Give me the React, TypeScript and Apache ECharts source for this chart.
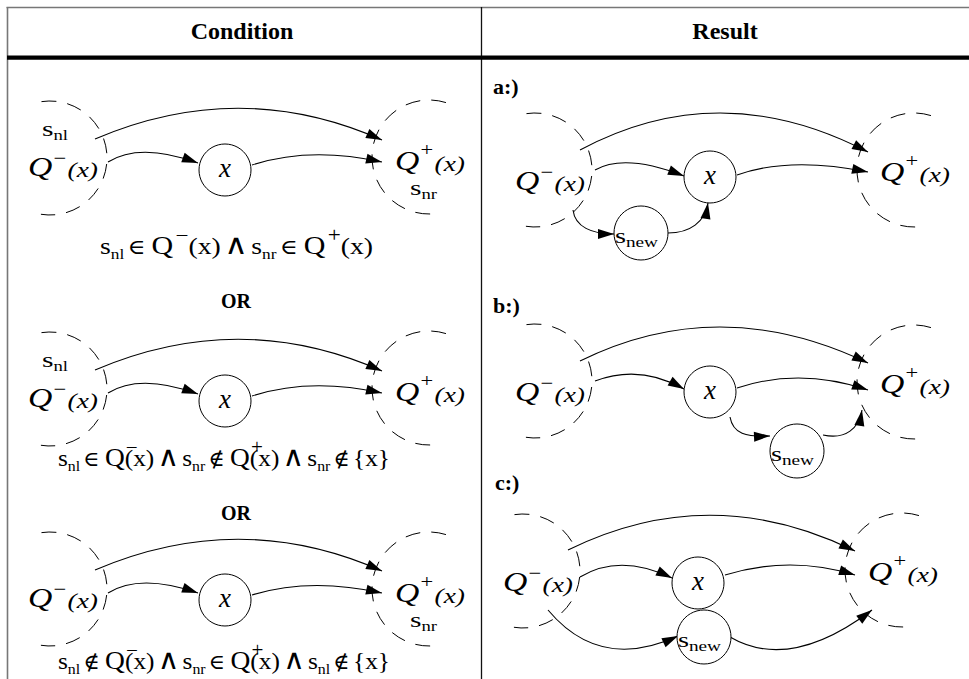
import React, { useEffect, useRef } from "react";
import * as echarts from "echarts";

// ---------- content ----------
const headers = ["Condition", "Result"];
const orLabels = ["OR", "OR"];
const resultTags = ["a:)", "b:)", "c:)"];
const nodeLabel = "x";
const newNode = ["s", "new"];
const leftNeighbor = ["s", "nl"];
const rightNeighbor = ["s", "nr"];
const predSet = ["Q", "−", "(x)"];
const succSet = ["Q", "+", "(x)"];

// formula tokens: [text, role]
const condition1: [string, string][] = [
  ["s", "v"], ["nl", "sub"], ["∈", "rel"], ["Q", "Q"], ["−", "sup"], ["(x)", "grp"],
  ["∧", "and"], ["s", "v"], ["nr", "sub"], ["∈", "rel"], ["Q", "Q"], ["+", "sup"], ["(x)", "grp"],
];
const condition2: [string, string][] = [
  ["s", "v"], ["nl", "sub"], ["∈", "rel"], ["Q", "Q"], ["−", "ovl"], ["(x)", "grp"],
  ["∧", "and"], ["s", "v"], ["nr", "sub"], ["∉", "rel"], ["Q", "Q"], ["+", "ovl"], ["(x)", "grp"],
  ["∧", "and"], ["s", "v"], ["nr", "sub"], ["∉", "rel"], ["{x}", "grp"],
];
const condition3: [string, string][] = [
  ["s", "v"], ["nl", "sub"], ["∉", "rel"], ["Q", "Q"], ["−", "ovl"], ["(x)", "grp"],
  ["∧", "and"], ["s", "v"], ["nr", "sub"], ["∈", "rel"], ["Q", "Q"], ["+", "ovl"], ["(x)", "grp"],
  ["∧", "and"], ["s", "v"], ["nl", "sub"], ["∉", "rel"], ["{x}", "grp"],
];
const conditions = [condition1, condition2, condition3];

// ---------- helpers ----------
const FAM = "Liberation Serif, Times New Roman, DejaVu Serif, serif";
type Piece = {
  t: string; size: number; dy?: number; dx?: number; italic?: boolean; bold?: boolean;
  padL?: number; padR?: number; noAdvance?: boolean;
};
let mctx: CanvasRenderingContext2D | null = null;
function fontOf(p: Piece) {
  return `${p.italic ? "italic " : ""}${p.bold ? "bold " : ""}${p.size}px ${FAM}`;
}
function measure(t: string, font: string) {
  if (!mctx) mctx = document.createElement("canvas").getContext("2d");
  mctx!.font = font;
  return mctx!.measureText(t).width;
}
function run(pieces: Piece[], left: number, baseline: number, targetW?: number, center?: number) {
  let x = 0;
  const items: any[] = [];
  for (const p of pieces) {
    x += p.padL || 0;
    const font = fontOf(p);
    const w = measure(p.t, font);
    items.push({
      type: "text",
      x: x + (p.dx || 0),
      y: baseline + (p.dy || 0) - 0.33 * p.size,
      style: {
        text: p.t,
        fontFamily: FAM,
        fontSize: p.size,
        fontStyle: p.italic ? "italic" : "normal",
        fontWeight: p.bold ? "bold" : "normal",
        fill: "#000",
        align: "left", textAlign: "left", verticalAlign: "middle", textVerticalAlign: "middle",
      },
    });
    if (!p.noAdvance) x += w + (p.padR || 0);
  }
  const k = targetW ? targetW / x : 1;
  const gx = center !== undefined ? center - (x * k) / 2 : left;
  return { type: "group", x: gx, y: 0, scaleX: k, silent: true, children: items };
}

const ROLE: Record<string, Partial<Piece>> = {
  v: { size: 24 },
  sub: { size: 15, dy: 5 },
  rel: { size: 21, padL: 3, padR: 3 },
  Q: { size: 26, padL: 2 },
  sup: { size: 20, dy: -12, padL: 2 },
  ovl: { size: 20, dy: -12, dx: 1, noAdvance: true },
  grp: { size: 24 },
  and: { size: 28, padL: 3, padR: 3 },
};
function formulaPieces(tokens: [string, string][]): Piece[] {
  return tokens.map(([t, r]) => ({ t, size: 24, ...ROLE[r] } as Piece));
}

function arrow(pts: number[][]) {
  const out: any[] = [];
  const [s, ...rest] = pts;
  const e = rest[rest.length - 1];
  const c = rest[rest.length - 2];
  const shape: any = { x1: s[0], y1: s[1], x2: e[0], y2: e[1], cpx1: rest[0][0], cpy1: rest[0][1] };
  if (rest.length === 3) { shape.cpx2 = rest[1][0]; shape.cpy2 = rest[1][1]; }
  out.push({ type: "bezierCurve", shape, style: { stroke: "#000", lineWidth: 1.1, fill: "none" }, silent: true });
  let ux = e[0] - c[0], uy = e[1] - c[1];
  const len = Math.hypot(ux, uy) || 1;
  ux /= len; uy /= len;
  const L = 16, W = 5;
  const bx = e[0] - L * ux, by = e[1] - L * uy;
  out.push({
    type: "polygon",
    shape: { points: [[e[0], e[1]], [bx - W * uy, by + W * ux], [bx + W * uy, by - W * ux]] },
    style: { fill: "#000" }, silent: true,
  });
  return out;
}
const DASH = { stroke: "#000", lineWidth: 1, fill: "none", lineDash: [15, 11] };
function leftSet(c: number[]) {
  return { type: "arc", shape: { cx: c[0], cy: c[1], r: 57, startAngle: -Math.PI / 2 - 0.15, endAngle: Math.PI / 2 + 0.16, clockwise: true }, style: DASH, silent: true };
}
function rightSet(c: number[]) {
  return { type: "arc", shape: { cx: c[0], cy: c[1], r: 57, startAngle: Math.PI / 2 - 0.02, endAngle: Math.PI * 1.5 + 0.32, clockwise: true }, style: DASH, silent: true };
}
function node(c: number[], r: number) {
  return { type: "circle", shape: { cx: c[0], cy: c[1], r }, style: { stroke: "#000", lineWidth: 1, fill: "#fff" }, silent: true };
}
function setLabel(parts: string[], left: number, baseline: number, supDy: number) {
  return run([
    { t: parts[0], size: 27, italic: true },
    { t: parts[1], size: 18, dy: supDy, padL: 1 },
    { t: parts[2], size: 22, italic: true, dy: 1, padL: 1 },
  ], left, baseline, 70);
}
function subLabel(parts: string[], left: number, baseline: number, w: number) {
  return run([{ t: parts[0], size: 22 }, { t: parts[1], size: 14, dy: 4 }], left, baseline, w);
}

function buildGraphics() {
  const g: any[] = [];
  g.push({ type: "rect", shape: { x: 0, y: 0, width: 969, height: 679 }, style: { fill: "#fff" }, silent: true });
  // table frame
  g.push({ type: "line", shape: { x1: 6.5, y1: 7.5, x2: 969, y2: 7.5 }, style: { stroke: "#777", lineWidth: 1.6 }, silent: true });
  g.push({ type: "line", shape: { x1: 7.5, y1: 7, x2: 7.5, y2: 679 }, style: { stroke: "#777", lineWidth: 1.6 }, silent: true });
  g.push({ type: "line", shape: { x1: 481.5, y1: 7, x2: 481.5, y2: 679 }, style: { stroke: "#111", lineWidth: 1.3 }, silent: true });
  g.push({ type: "rect", shape: { x: 7, y: 55.5, width: 962, height: 4.2 }, style: { fill: "#000" }, silent: true });
  // headers
  g.push(run([{ t: headers[0], size: 24, bold: true }], 0, 39, undefined, 242));
  g.push(run([{ t: headers[1], size: 24, bold: true }], 0, 39, undefined, 725));

  // ---- condition column ----
  const leftPanels = [
    { L: [50, 158], R: [429, 157], X: [225, 170], snl: true, snr: true },
    { L: [50, 389], R: [429, 388], X: [225, 401], snl: true, snr: false },
    { L: [50, 589], R: [429, 589], X: [225, 600], snl: false, snr: true },
  ];
  leftPanels.forEach((p) => {
    const cy = p.L[1];
    g.push(leftSet(p.L), rightSet(p.R));
    g.push(...arrow([[95, cy - 19], [240, cy - 81], [382, cy - 18]]));
    g.push(...arrow([[108, cy + 4], [140, cy - 16], [p.X[0] - 27, p.X[1] - 7]]));
    g.push(...arrow([[p.X[0] + 27, p.X[1] - 5], [310, cy - 12], [382, cy + 4]]));
    g.push(node(p.X, 26));
    g.push(run([{ t: nodeLabel, size: 27, italic: true }], 0, p.X[1] + 7, undefined, p.X[0]));
    g.push(setLabel(predSet, p.L[0] - 22, p.L[1] + 18, -12));
    g.push(setLabel(succSet, p.R[0] - 34, p.R[1] + 13, -14));
    if (p.snl) g.push(subLabel(leftNeighbor, 42, cy - 22, 26));
    if (p.snr) g.push(subLabel(rightNeighbor, p.R[0] - 19, p.R[1] + 38, 27));
  });
  const formulaPos = [[100, 254, 273], [58, 466, 332], [58, 669, 332]];
  conditions.forEach((c, i) => {
    const [l, b, w] = formulaPos[i];
    g.push(run(formulaPieces(c), l, b, w));
  });
  const orPos = [308, 520];
  orLabels.forEach((t, i) => g.push(run([{ t, size: 20, bold: true }], 0, orPos[i], undefined, 236)));

  // ---- result column ----
  const rightPanels = [
    {
      L: [535, 170], R: [914, 170], X: [710, 177], S: [641, 233], tag: [493, 94],
      arcs: [
        [[580, 150], [720, 75], [868, 152]],
        [[595, 170], [625, 153], [684, 176]],
        [[737, 175], [790, 156], [868, 172]],
        [[573, 210], [575, 227], [592, 234], [614, 234]],
        [[668, 233], [690, 233], [705, 222], [708, 203]],
      ],
    },
    {
      L: [535, 381], R: [914, 382], X: [710, 392], S: [797, 451], tag: [493, 313],
      arcs: [
        [[580, 361], [720, 292], [868, 363]],
        [[595, 381], [640, 364], [684, 389]],
        [[737, 388], [800, 367], [868, 390]],
        [[730, 417], [733, 434], [746, 437], [770, 436]],
        [[823, 435], [846, 440], [859, 428], [862, 410]],
      ],
    },
    {
      L: [523, 571], R: [902, 570], X: [698, 583], S: [704, 637], tag: [495, 490],
      arcs: [
        [[568, 550], [710, 480], [855, 551]],
        [[580, 577], [620, 553], [672, 578]],
        [[725, 575], [790, 555], [855, 575]],
        [[548, 610], [600, 672], [678, 636]],
        [[730, 637], [790, 672], [872, 610]],
      ],
    },
  ];
  rightPanels.forEach((p, i) => {
    g.push(leftSet(p.L), rightSet(p.R));
    p.arcs.forEach((a) => g.push(...arrow(a)));
    g.push(node(p.X, 26), node(p.S, 27));
    g.push(run([{ t: nodeLabel, size: 27, italic: true }], 0, p.X[1] + 7, undefined, p.X[0]));
    g.push(run([{ t: newNode[0], size: 22 }, { t: newNode[1], size: 15, dy: 5 }], p.S[0] - 26, p.S[1] + 9, 43));
    g.push(setLabel(predSet, p.L[0] - 20, p.L[1] + 20, -12));
    g.push(setLabel(succSet, p.R[0] - 34, p.R[1] + 11, -14));
    g.push(run([{ t: resultTags[i], size: 22, bold: true }], p.tag[0], p.tag[1]));
  });
  return g;
}

export default function App() {
  const ref = useRef<HTMLDivElement>(null);
  useEffect(() => {
    if (!ref.current) return;
    const chart = echarts.init(ref.current, undefined, { renderer: "svg" });
    chart.setOption({
      animation: false,
      backgroundColor: "#fff",
      graphic: { elements: buildGraphics() },
    });
    return () => chart.dispose();
  }, []);
  return (
    <div
      ref={ref}
      style={{ position: "fixed", left: 0, top: 0, width: 969, height: 679, background: "#fff" }}
    />
  );
}
